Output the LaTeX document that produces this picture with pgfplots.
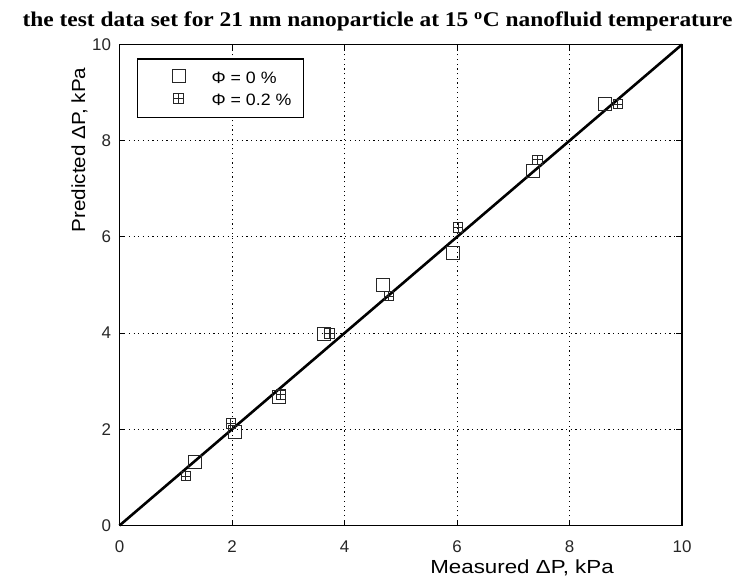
\documentclass[border=0pt]{standalone}
\usepackage{fontspec}
\setmainfont{Liberation Sans}
\newfontfamily\titlefont[FakeStretch=1.12]{Liberation Serif}
\newfontfamily\xlabfont[FakeStretch=1.18]{Liberation Sans}
\newfontfamily\ylabfont[FakeStretch=1.09]{Liberation Sans}
\newfontfamily\legfont[FakeStretch=1.08]{Liberation Sans}
\usepackage{pgfplots}
\pgfplotsset{compat=1.18}
\usetikzlibrary{plotmarks}

\pgfdeclareplotmark{boxplus}{%
 \pgfpathrectangle{\pgfpoint{-\pgfplotmarksize}{-\pgfplotmarksize}}{\pgfpoint{2\pgfplotmarksize}{2\pgfplotmarksize}}%
 \pgfpathmoveto{\pgfpoint{-\pgfplotmarksize}{0pt}}\pgfpathlineto{\pgfpoint{\pgfplotmarksize}{0pt}}%
 \pgfpathmoveto{\pgfpoint{0pt}{-\pgfplotmarksize}}\pgfpathlineto{\pgfpoint{0pt}{\pgfplotmarksize}}%
 \pgfusepathqstroke}

\begin{document}
\begin{tikzpicture}
\begin{axis}[
  scale only axis, width=562.5bp, height=481bp,
  xmin=0, xmax=10, ymin=0, ymax=10,
  xtick={0,2,...,10}, ytick={0,2,...,10},
  tick align=inside, major tick length=6bp,
  axis line style={line width=1.3bp},
  tick style={line width=1bp, black},
  grid=major,
  major grid style={black, line width=0.9bp, dash pattern=on 1.2bp off 3.5bp},
  ticklabel style={font=\fontsize{17}{20}\selectfont, text=black!85},
  /pgf/number format/assume math mode=true,
  xticklabel style={yshift=-12bp},
  yticklabel style={xshift=-5bp},
  clip=false,
  xlabel={Measured ΔP, kPa},
  xlabel style={at={(axis description cs:0.7156,-0.0998)}, anchor=base, font=\xlabfont\fontsize{19}{22}\selectfont},
  ylabel={Predicted ΔP, kPa},
  ylabel style={at={(axis description cs:-0.0613,0.7807)}, anchor=base, font=\ylabfont\fontsize{19}{22}\selectfont},
  legend style={at={(rel axis cs:0.031,0.971)}, anchor=north west, draw=black, line width=1.3bp,
    font=\legfont\fontsize{16.5}{19}\selectfont, inner xsep=12bp, inner ysep=10bp, row sep=9bp,
    column sep=0bp,
    nodes={inner sep=0bp}},
  legend cell align=left,
  legend image code/.code={\path[draw=none] (0bp,6bp) -- (62bp,6bp);
    \path[draw=none] plot[only marks] coordinates {(29bp,2.5bp)};},
]
\addplot[only marks, mark=square, mark size=6.5bp, black!85, line width=1bp] coordinates {
(1.35,1.31) (2.05,1.95) (2.84,2.68) (3.64,3.99) (4.68,5.00) (5.93,5.67) (7.35,7.36) (8.63,8.76)
};
\addlegendentry{Φ = 0 \%}
\addplot[only marks, mark=boxplus, mark size=4.8bp, black!85, line width=0.9bp] coordinates {
(1.18,1.03) (1.98,2.12) (2.87,2.72) (3.73,3.99) (4.79,4.77) (6.02,6.20) (7.43,7.60) (8.86,8.76)
};
\addlegendentry{Φ = 0.2 \%}
\addplot[black, line width=2.6bp, forget plot] coordinates {(0,0) (10,10)};
\coordinate (O) at (rel axis cs:0,0);
\node[anchor=base, font=\titlefont\bfseries\fontsize{21}{24}\selectfont] at (axis description cs:0.4587,1.0374)
  {the test data set for 21 nm nanoparticle at 15 \textsuperscript{o}C nanofluid temperature};
\end{axis}
\pgfresetboundingbox
\path (O) ++(-119.5bp,-55.5bp) rectangle ++(740bp,581bp);
\end{tikzpicture}
\end{document}
